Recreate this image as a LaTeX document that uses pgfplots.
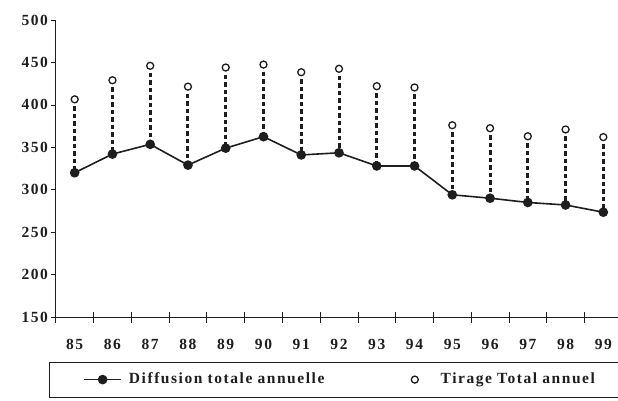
\documentclass[border=0pt]{standalone}
\usepackage{pgfplots}
\pgfplotsset{compat=1.18}
\usepackage{fontspec}
\setmainfont{Liberation Serif}[LetterSpace=10]
\definecolor{ink}{RGB}{30,30,30}
\pgfplotsset{
  threeleg/.style={legend image code/.code={\path (0pt,-4pt) (37pt,4pt); \draw[mark repeat=2,mark phase=2,##1] plot coordinates {(0pt,0pt) (18.5pt,0pt) (37pt,0pt)};}},
  drop/.style={ink, line width=3pt, dash pattern=on 4.5pt off 3pt, shorten <=7pt, forget plot},
}
\begin{document}
\begin{tikzpicture}
\path[use as bounding box] (0,0) rectangle (618pt,400pt);
\begin{axis}[
  at={(55.8pt,83pt)}, anchor=south west,
  scale only axis, width=566.4pt, height=297pt,
  xmin=0, xmax=15, ymin=150, ymax=500,
  axis x line=bottom, axis y line=left,
  axis line style={-, ink, line width=0.7pt},
  xtick={0,...,15}, x tick label as interval,
  xticklabels={85,86,87,88,89,90,91,92,93,94,95,96,97,98,99},
  ytick={150,200,...,500},
  xtick align=center, ytick align=outside,
  xtick style={ink, line width=0.7pt, /pgfplots/major tick length=11pt},
  ytick style={ink, line width=0.7pt, /pgfplots/major tick length=5pt},
  tick label style={font=\bfseries\fontsize{15.5}{17}\selectfont, text=ink},
  xticklabel style={yshift=-17pt},
  /pgf/number format/assume math mode=true,
  clip=false,
  legend columns=2,
  legend style={at={(rel axis cs:-0.012,-0.1515)}, anchor=north west,
    draw=ink, line width=0.7pt, inner xsep=34pt, inner ysep=10pt,
    font=\bfseries\fontsize{15.5}{17}\selectfont, text=ink,
    nodes={inner sep=0pt, text height=11pt, text depth=3.5pt},
    /tikz/every odd column/.append style={column sep=7pt}},
]
\addplot[drop] coordinates {(0.5,406.5) (0.5,320)};
\addplot[drop] coordinates {(1.5,429) (1.5,342)};
\addplot[drop] coordinates {(2.5,446) (2.5,353.5)};
\addplot[drop] coordinates {(3.5,421.5) (3.5,329)};
\addplot[drop] coordinates {(4.5,444) (4.5,349)};
\addplot[drop] coordinates {(5.5,447.5) (5.5,362.5)};
\addplot[drop] coordinates {(6.5,438.5) (6.5,341)};
\addplot[drop] coordinates {(7.5,442.5) (7.5,343.5)};
\addplot[drop] coordinates {(8.5,422) (8.5,328)};
\addplot[drop] coordinates {(9.5,420.5) (9.5,328)};
\addplot[drop] coordinates {(10.5,376) (10.5,294)};
\addplot[drop] coordinates {(11.5,372.5) (11.5,290)};
\addplot[drop] coordinates {(12.5,363) (12.5,285)};
\addplot[drop] coordinates {(13.5,371) (13.5,282)};
\addplot[drop] coordinates {(14.5,362) (14.5,273.5)};
\addplot[ink, line width=1.6pt, mark=*, mark size=4pt, mark options={fill=ink}, threeleg]
  coordinates {(0.5,320) (1.5,342) (2.5,353.5) (3.5,329) (4.5,349) (5.5,362.5) (6.5,341) (7.5,343.5) (8.5,328) (9.5,328) (10.5,294) (11.5,290) (12.5,285) (13.5,282) (14.5,273.5)};
\addlegendentry[text width=267pt]{Diffusion totale annuelle}
\addplot[only marks, mark=o, mark size=3.5pt, mark options={ink, line width=1.3pt, fill=white}, threeleg]
  coordinates {(0.5,406.5) (1.5,429) (2.5,446) (3.5,421.5) (4.5,444) (5.5,447.5) (6.5,438.5) (7.5,442.5) (8.5,422) (9.5,420.5) (10.5,376) (11.5,372.5) (12.5,363) (13.5,371) (14.5,362)};
\addlegendentry[text width=185pt]{Tirage Total annuel}
\end{axis}
\end{tikzpicture}
\end{document}
